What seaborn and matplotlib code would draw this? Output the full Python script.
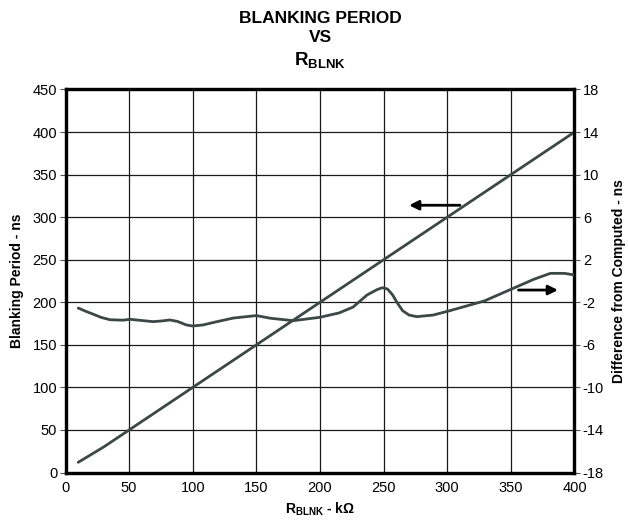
import numpy as np
import pandas as pd
import matplotlib
matplotlib.use("Agg")
import matplotlib.pyplot as plt
import seaborn as sns

# ---- data ----
r_blnk = [10, 30, 50, 100, 150, 200, 250, 300, 350, 400]
blanking = [12, 30, 50, 100, 150, 200, 250, 300, 350, 400]

r_diff = [10, 16, 22, 28, 35, 45, 51, 58, 69, 76, 82, 88, 95, 100, 108, 119,
          132, 150, 161, 179, 200, 215, 226, 237, 245, 249, 253, 257, 261, 265,
          270, 276, 289, 302, 329, 352, 368, 381, 392, 400]
difference = [-2.54, -2.85, -3.13, -3.42, -3.64, -3.68, -3.6, -3.69, -3.82,
              -3.75, -3.66, -3.8, -4.13, -4.23, -4.13, -3.82, -3.48, -3.25,
              -3.5, -3.73, -3.41, -3.0, -2.45, -1.31, -0.8, -0.63, -0.75, -1.3,
              -2.1, -2.8, -3.2, -3.35, -3.2, -2.79, -1.88, -0.68, 0.16, 0.72,
              0.72, 0.57]

x_ticks = [0, 50, 100, 150, 200, 250, 300, 350, 400]
left_ticks = [0, 50, 100, 150, 200, 250, 300, 350, 400, 450]
right_ticks = [-18, -14, -10, -6, -2, 2, 6, 10, 14, 18]

sns.set_style("white")
plt.rcParams['font.family'] = ['Liberation Sans', 'DejaVu Sans']
plt.rcParams['mathtext.fontset'] = 'custom'
plt.rcParams['mathtext.rm'] = 'Liberation Sans'
plt.rcParams['mathtext.bf'] = 'Liberation Sans:bold'
plt.rcParams['text.color'] = 'black'
plt.rcParams['axes.labelcolor'] = 'black'
plt.rcParams['xtick.color'] = 'black'
plt.rcParams['ytick.color'] = 'black'

line_color = '#3c4846'

fig = plt.figure(figsize=(6.28, 5.2), dpi=100)
ax = fig.add_axes([0.1043, 0.0913, 0.8105, 0.7366])
ax2 = ax.twinx()

df1 = pd.DataFrame({'r': r_blnk, 'b': blanking})
df2 = pd.DataFrame({'r': r_diff, 'd': difference})
sns.lineplot(data=df1, x='r', y='b', ax=ax, color=line_color, linewidth=2.0,
             zorder=3, solid_joinstyle='round', solid_capstyle='round')
sns.lineplot(data=df2, x='r', y='d', ax=ax2, color=line_color, linewidth=2.0,
             zorder=3, solid_joinstyle='round', solid_capstyle='round')

ax.set_xlim(0, 400)
ax.set_ylim(0, 450)
ax2.set_ylim(-18, 18)
ax.set_xticks(x_ticks)
ax.set_yticks(left_ticks)
ax2.set_yticks(right_ticks)
ax.set_xticklabels([str(t) for t in x_ticks])
ax.set_yticklabels([str(t) for t in left_ticks])
ax2.set_yticklabels([str(t) for t in right_ticks])

ax.grid(True, color='#1a1a1a', linewidth=0.9)
ax.set_axisbelow(True)

for a in (ax, ax2):
    for s in a.spines.values():
        s.set_linewidth(2.3)
        s.set_color('black')

ax.tick_params(axis='y', direction='out', length=4, width=0.8, color='#555555',
               labelcolor='black', labelsize=10.5, pad=2)
ax.tick_params(axis='x', length=0, labelsize=10.5, labelcolor='black', pad=6)
ax2.tick_params(axis='y', direction='out', length=4, width=0.8, color='#555555',
                labelcolor='black', labelsize=10.5, pad=2)

ax.set_xlabel(r'$\mathbf{R_{BLNK}}$ - kΩ', fontsize=10, fontweight='bold', labelpad=4, color='black')
ax.set_ylabel('Blanking Period - ns', fontsize=10, fontweight='bold', labelpad=6, color='black')
ax2.set_ylabel('Difference from Computed - ns', fontsize=10, fontweight='bold', labelpad=6, color='black')

# arrows
ax.annotate('', xy=(270, 314), xytext=(310, 314),
            arrowprops=dict(arrowstyle='-|>', color='black', lw=2, mutation_scale=14,
                            shrinkA=0, shrinkB=0))
ax2.annotate('', xy=(387, -0.85), xytext=(356, -0.85),
             arrowprops=dict(arrowstyle='-|>', color='black', lw=2, mutation_scale=14,
                             shrinkA=0, shrinkB=0))

cx = 0.1043 + 0.8105 / 2
fig.text(cx, 0.965, 'BLANKING PERIOD', ha='center', va='center', fontsize=12.5, fontweight='bold', color='black')
fig.text(cx, 0.927, 'VS', ha='center', va='center', fontsize=12.5, fontweight='bold', color='black')
fig.text(cx, 0.885, r'$\mathbf{R_{BLNK}}$', ha='center', va='center', fontsize=13.5, fontweight='bold', color='black')

fig.savefig('out.png', dpi=100)
